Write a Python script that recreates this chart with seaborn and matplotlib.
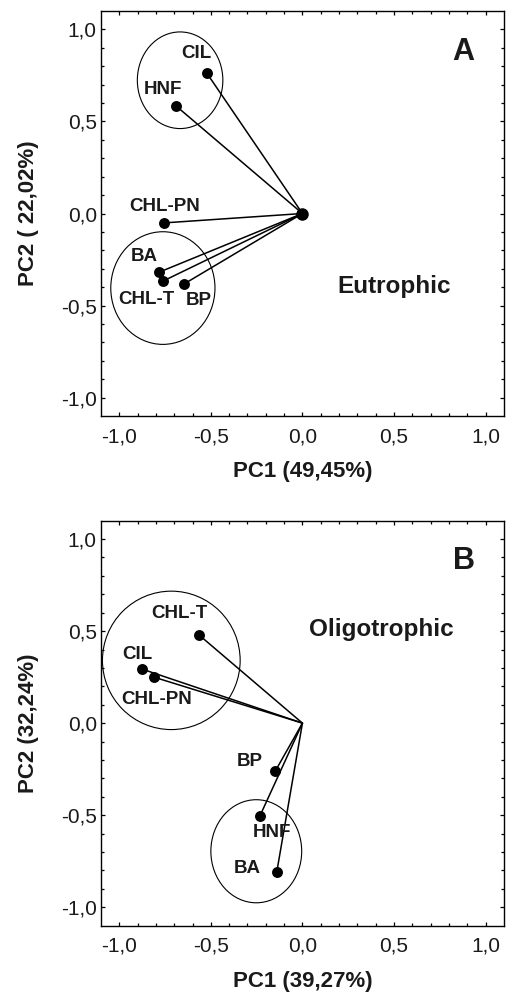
import matplotlib
matplotlib.use("Agg")
import matplotlib.pyplot as plt
from matplotlib.patches import Ellipse
import seaborn as sns
import pandas as pd

# PCA loadings of the biological variables, eutrophic site
eu_vars = ["CIL", "HNF", "CHL-PN", "BA", "CHL-T", "BP"]
eu_pc1 = [-0.523, -0.692, -0.756, -0.783, -0.761, -0.645]
eu_pc2 = [0.764, 0.586, -0.051, -0.319, -0.367, -0.382]

# PCA loadings, oligotrophic site
ol_vars = ["CHL-T", "CIL", "CHL-PN", "BP", "HNF", "BA"]
ol_pc1 = [-0.567, -0.877, -0.808, -0.149, -0.233, -0.140]
ol_pc2 = [0.481, 0.294, 0.249, -0.262, -0.506, -0.808]

# explained variance of each component
eu_var_pct = ["49,45", "22,02"]
ol_var_pct = ["39,27", "32,24"]

tick_values = [-1.0, -0.5, 0.0, 0.5, 1.0]
tick_labels = ["-1,0", "-0,5", "0,0", "0,5", "1,0"]

# grouping ellipses: (centre x, centre y, width, height)
eu_groups = [(-0.668, 0.724, 0.467, 0.525), (-0.762, -0.405, 0.569, 0.612)]
ol_groups = [(-0.716, 0.341, 0.752, 0.752), (-0.252, -0.696, 0.496, 0.560)]

# label anchor positions for each variable (centre of text)
eu_label_pos = {"CIL": (-0.578, 0.872), "HNF": (-0.763, 0.673),
                "CHL-PN": (-0.75, 0.04), "BA": (-0.863, -0.235),
                "CHL-T": (-0.85, -0.467), "BP": (-0.565, -0.471)}
ol_label_pos = {"CHL-T": (-0.672, 0.593), "CIL": (-0.901, 0.372),
                "CHL-PN": (-0.796, 0.126), "BP": (-0.287, -0.211),
                "HNF": (-0.169, -0.596), "BA": (-0.300, -0.790)}

sns.set_style("ticks")
plt.rcParams["font.family"] = ["Liberation Sans", "DejaVu Sans"]

fig = plt.figure(figsize=(5.1, 9.94), dpi=100)
ax_a = fig.add_axes([0.198, 0.5815, 0.790, 0.4074])
ax_b = fig.add_axes([0.198, 0.0688, 0.790, 0.4074])


def draw_panel(ax, names, pc1, pc2, pct, groups, label_pos, letter,
               site, site_xy, origin_dot):
    df = pd.DataFrame({"var": names, "PC1": pc1, "PC2": pc2})
    for x, y in zip(df["PC1"], df["PC2"]):
        ax.plot([0, x], [0, y], color="black", lw=1.1, zorder=2,
                solid_capstyle="round")
    sns.scatterplot(data=df, x="PC1", y="PC2", ax=ax, color="black",
                    s=62, edgecolor="black", linewidth=0, zorder=3,
                    legend=False)
    if origin_dot:
        ax.plot([0], [0], "o", color="black", ms=8, zorder=3)
    for cx, cy, w, h in groups:
        ax.add_patch(Ellipse((cx, cy), w, h, fill=False, ec="black",
                             lw=0.8, zorder=1))
    for name in names:
        lx, ly = label_pos[name]
        ax.text(lx, ly, name, ha="center", va="center", fontsize=13.5,
                fontweight="bold", color="#1a1a1a")
    ax.text(0.88, 0.88, letter, ha="center", va="center", fontsize=22,
            fontweight="bold", color="#1a1a1a")
    ax.text(site_xy[0], site_xy[1], site, ha="center", va="center",
            fontsize=17.5, fontweight="bold", color="#1a1a1a")

    ax.set_xlim(-1.1, 1.1)
    ax.set_ylim(-1.1, 1.1)
    ax.set_xticks(tick_values)
    ax.set_xticklabels(tick_labels)
    ax.set_yticks(tick_values)
    ax.set_yticklabels(tick_labels)
    ax.set_xticks([v / 10 for v in range(-10, 11)], minor=True)
    ax.set_yticks([v / 10 for v in range(-10, 11)], minor=True)
    ax.tick_params(which="both", direction="in", top=True, right=True,
                   color="black", width=0.9)
    ax.tick_params(which="major", length=3)
    ax.tick_params(which="minor", length=2)
    ax.tick_params(axis="x", which="major", labelsize=15, pad=8,
                   labelcolor="#1a1a1a")
    ax.tick_params(axis="y", which="major", labelsize=15, pad=3,
                   labelcolor="#1a1a1a")
    for sp in ax.spines.values():
        sp.set_visible(True)
        sp.set_linewidth(1.0)
        sp.set_color("black")

    ax.set_xlabel(f"PC1 ({pct[0]}%)", fontsize=16, fontweight="bold",
                  color="#1a1a1a")
    ylabel = f"PC2 ( {pct[1]}%)" if letter == "A" else f"PC2 ({pct[1]}%)"
    ax.set_ylabel(ylabel, fontsize=16, fontweight="bold", color="#1a1a1a")
    ax.xaxis.label.set_va("center")
    ax.yaxis.label.set_va("center")
    ax.xaxis.set_label_coords(0.5, -0.138)
    ax.yaxis.set_label_coords(-0.181, 0.5)


draw_panel(ax_a, eu_vars, eu_pc1, eu_pc2, eu_var_pct, eu_groups,
           eu_label_pos, "A", "Eutrophic", (0.503, -0.395), True)
draw_panel(ax_b, ol_vars, ol_pc1, ol_pc2, ol_var_pct, ol_groups,
           ol_label_pos, "B", "Oligotrophic", (0.43, 0.511), False)

fig.savefig("out.png", dpi=100)
